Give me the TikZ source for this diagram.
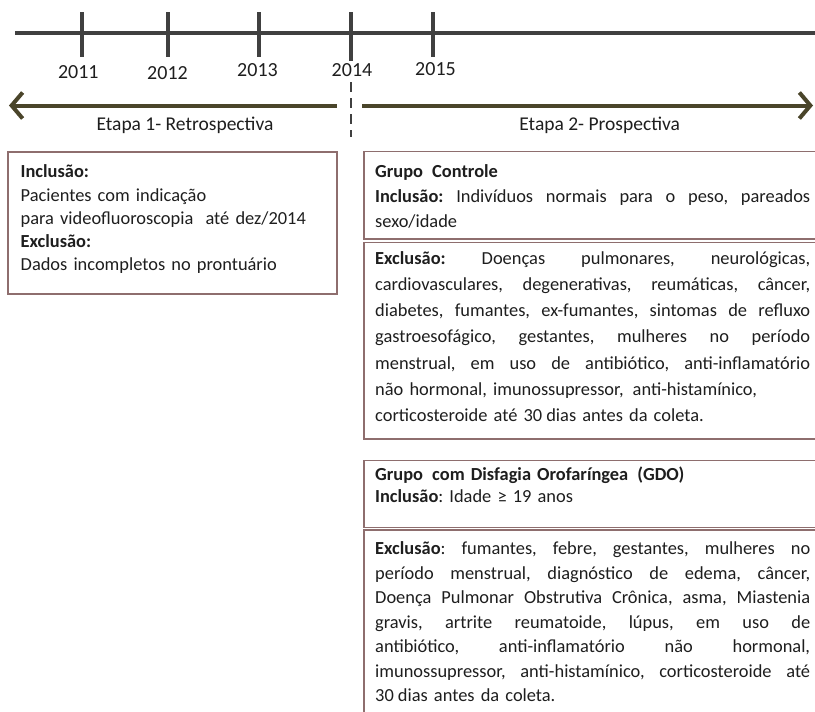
\documentclass[tikz,border=0pt]{standalone}
\usepackage{fontspec}
\setmainfont{Carlito}
\usetikzlibrary{arrows.meta}
\definecolor{tlc}{HTML}{404040}
\definecolor{olivec}{HTML}{4A452A}
\definecolor{frmc}{HTML}{8E6E6E}
\definecolor{txtc}{HTML}{1E1E1E}
\newlength\rw \setlength\rw{435pt}
\newcommand\jl[1]{\leavevmode\hbox to \rw{\spaceskip=\fontdimen2\font plus 1fil\relax\xspaceskip=\spaceskip #1}}
\frenchspacing
\begin{document}
\begin{tikzpicture}[x=1pt,y=-1pt,
  yearlbl/.style={font=\fontsize{20}{24}\selectfont, text=txtc, inner sep=0pt, anchor=base},
  etapalbl/.style={font=\fontsize{19.5}{24}\selectfont, text=txtc, inner sep=0pt, anchor=base},
  tline/.style={line width=4.5pt, draw=tlc},
  tick/.style={line width=4pt, draw=tlc},
  etapa/.style={line width=4pt, draw=olivec, -{Straight Barb[length=11pt,width=26pt]}},
  divider/.style={line width=2pt, draw=tlc, dash pattern=on 10pt off 6pt},
  frame/.style={line width=1.2pt, draw=frmc},
  boxtext/.style={text=txtc, inner sep=0pt, anchor=base west, text width=\rw},
]
\useasboundingbox (0,0) rectangle (815,712);
\fill[white] (0,0) rectangle (815,712);

% timeline
\coordinate (tlS) at (15,33);
\coordinate (tlE) at (822,33);
\draw[tline] (tlS) -- (tlE);
\foreach \x/\b in {82/57,168.3/57,259.3/57,350.7/61,433.3/57}{
  \draw[tick] (\x,12) -- (\x,\b);
}
\node[yearlbl] (y2011) at (78.3,78.3) {2011};
\node[yearlbl] (y2012) at (167.5,79.3) {2012};
\node[yearlbl] (y2013) at (257.5,76) {2013};
\node[yearlbl] (y2014) at (352,76.7) {2014};
\node[yearlbl] (y2015) at (435.5,75) {2015};

% etapas
\coordinate (a1s) at (336.5,105.5);
\coordinate (a1e) at (9,105.5);
\coordinate (a2s) at (362,105.5);
\coordinate (a2e) at (813,105.5);
\draw[etapa] (a1s) -- (a1e);
\draw[etapa] (a2s) -- (a2e);
\coordinate (dvS) at (350.5,82);
\coordinate (dvE) at (350.5,137);
\draw[divider] (dvS) -- (dvE);
\node[etapalbl] (e1) at (185,130) {Etapa 1- Retrospectiva};
\node[etapalbl] (e2) at (599.7,130) {Etapa 2- Prospectiva};

% frames
\draw[frame] (8,152) rectangle (337,294);
\draw[frame] (364,151.7) rectangle (818,239);
\draw[frame] (364,242.7) rectangle (818,439);
\draw[frame] (364,460.5) rectangle (818,527.3);
\draw[frame] (364,530) rectangle (818,722);

% left box
\node[boxtext, font=\fontsize{18.4}{23.3}\selectfont] (left) at (20.5,177.7) {%
\textbf{Inclusão:}\\
Pacientes com indicação\\
para videofluoroscopia\ \ até dez/2014\\
\textbf{Exclusão:}\\
Dados incompletos no prontuário};

% controle
\node[boxtext, font=\fontsize{18.4}{24.8}\selectfont] (ctlA) at (375,177.5) {%
\textbf{Grupo\hspace{3pt} Controle}\\
\jl{\textbf{Inclusão:} Indivíduos normais para o peso, pareados}\\
sexo/idade};

\node[boxtext, font=\fontsize{18.4}{26.3}\selectfont] (ctlB) at (375,264) {%
\jl{\textbf{Exclusão:} Doenças pulmonares, neurológicas,}\\
\jl{cardiovasculares, degenerativas, reumáticas, câncer,}\\
\jl{diabetes, fumantes, ex-fumantes, sintomas de refluxo}\\
\jl{gastroesofágico, gestantes, mulheres no período}\\
\jl{menstrual, em uso de antibiótico, anti-inflamatório}\\
não hormonal, imunossupressor,\hspace{3pt} anti-histamínico,\\
corticosteroide até 30\hspace{-2pt} dias antes da coleta.};

% GDO
\node[boxtext, font=\fontsize{18.4}{22.5}\selectfont] (gdoA) at (375,480) {%
\textbf{Grupo\hspace{3pt} com Disfagia Orofaríngea\hspace{3pt} (GDO)}\\
\textbf{Inclusão}: Idade ≥ 19 anos};

\node[boxtext, font=\fontsize{18.4}{24.5}\selectfont] (gdoB) at (375,554.5) {%
\jl{\textbf{Exclusão}: fumantes, febre, gestantes, mulheres no}\\
\jl{período menstrual, diagnóstico de edema, câncer,}\\
\jl{Doença Pulmonar Obstrutiva Crônica, asma, Miastenia}\\
\jl{gravis, artrite reumatoide, lúpus, em uso de}\\
\jl{antibiótico, anti-inflamatório não hormonal,}\\
\jl{imunossupressor, anti-histamínico, corticosteroide até}\\
30\hspace{-2pt} dias antes da coleta.};
\end{tikzpicture}
\end{document}
